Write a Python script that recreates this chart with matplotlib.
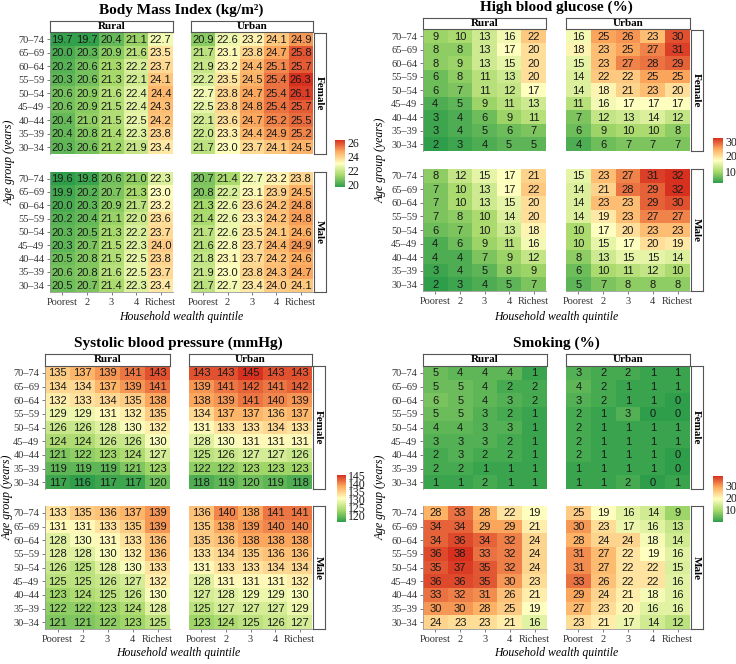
"""Heatmaps of four risk factors by age group, wealth quintile, sex and area."""
import numpy as np
import matplotlib
matplotlib.use("Agg")
import matplotlib.pyplot as plt
from matplotlib.colors import LinearSegmentedColormap, Normalize

# Figure size in pixels (dpi 100)
FIG_W = 736
FIG_H = 664
SERIF = "Liberation Serif"
SANS = "Liberation Sans"
HEAT_COLOURS = ["#2e9e4b", "#a6d96a", "#ffffbf", "#fdae61", "#d7301f"]
CMAP = LinearSegmentedColormap.from_list("risk", HEAT_COLOURS)

AGE_GROUPS = ["70–74", "65–69", "60–64", "55–59", "50–54",
              "45–49", "40–44", "35–39", "30–34"]
QUINTILES = ["Poorest", "2", "3", "4", "Richest"]

# Body mass index (kg/m2)
BMI_RURAL_FEMALE = [
    [19.7, 19.7, 20.4, 21.1, 22.7], [20.0, 20.3, 20.9, 21.6, 23.5],
    [20.2, 20.6, 21.3, 22.2, 23.7], [20.3, 20.6, 21.3, 22.1, 24.1],
    [20.6, 20.9, 21.6, 22.4, 24.4], [20.6, 20.9, 21.5, 22.4, 24.3],
    [20.4, 21.0, 21.5, 22.5, 24.2], [20.4, 20.8, 21.4, 22.3, 23.8],
    [20.3, 20.6, 21.2, 21.9, 23.4]]
BMI_URBAN_FEMALE = [
    [20.9, 22.6, 23.2, 24.1, 24.9], [21.7, 23.1, 23.8, 24.7, 25.8],
    [21.9, 23.2, 24.4, 25.1, 25.7], [22.2, 23.5, 24.5, 25.4, 26.3],
    [22.7, 23.8, 24.7, 25.4, 26.1], [22.5, 23.8, 24.8, 25.4, 25.7],
    [22.1, 23.6, 24.7, 25.2, 25.5], [22.0, 23.3, 24.4, 24.9, 25.2],
    [21.7, 23.0, 23.7, 24.1, 24.5]]
BMI_RURAL_MALE = [
    [19.6, 19.8, 20.6, 21.0, 22.3], [19.9, 20.2, 20.7, 21.3, 23.0],
    [20.0, 20.3, 20.9, 21.7, 23.2], [20.2, 20.4, 21.1, 22.0, 23.6],
    [20.3, 20.5, 21.3, 22.2, 23.7], [20.3, 20.7, 21.5, 22.3, 24.0],
    [20.5, 20.8, 21.5, 22.5, 23.8], [20.6, 20.8, 21.6, 22.5, 23.7],
    [20.5, 20.7, 21.4, 22.3, 23.4]]
BMI_URBAN_MALE = [
    [20.7, 21.4, 22.7, 23.2, 23.8], [20.8, 22.2, 23.1, 23.9, 24.5],
    [21.3, 22.6, 23.6, 24.2, 24.8], [21.4, 22.6, 23.3, 24.2, 24.8],
    [21.7, 22.6, 23.5, 24.1, 24.6], [21.6, 22.8, 23.7, 24.4, 24.9],
    [21.8, 23.1, 23.7, 24.2, 24.6], [21.9, 23.0, 23.8, 24.3, 24.7],
    [21.7, 22.7, 23.4, 24.0, 24.1]]

# High blood glucose (%)
GLU_RURAL_FEMALE = [
    [9, 10, 13, 16, 22], [8, 8, 13, 17, 20], [8, 9, 13, 15, 20],
    [6, 8, 11, 13, 20], [6, 7, 11, 12, 17], [4, 5, 9, 11, 13],
    [3, 4, 6, 9, 11], [3, 4, 5, 6, 7], [2, 3, 4, 5, 5]]
GLU_URBAN_FEMALE = [
    [16, 25, 26, 23, 30], [18, 23, 25, 27, 31], [15, 23, 27, 28, 29],
    [14, 22, 22, 25, 25], [14, 18, 21, 23, 20], [11, 16, 17, 17, 17],
    [7, 12, 13, 14, 12], [6, 9, 10, 10, 8], [4, 6, 7, 7, 7]]
GLU_RURAL_MALE = [
    [8, 12, 15, 17, 21], [7, 10, 13, 17, 22], [7, 10, 13, 15, 20],
    [7, 8, 10, 14, 20], [6, 7, 10, 13, 18], [4, 6, 9, 11, 16],
    [4, 4, 7, 9, 12], [3, 4, 5, 8, 9], [2, 3, 4, 5, 7]]
GLU_URBAN_MALE = [
    [15, 23, 27, 31, 32], [14, 21, 28, 29, 32], [14, 23, 23, 29, 30],
    [14, 19, 23, 27, 27], [10, 17, 20, 23, 23], [10, 15, 17, 20, 19],
    [8, 13, 15, 15, 14], [6, 10, 11, 12, 10], [5, 7, 8, 8, 8]]

# Systolic blood pressure (mmHg)
SBP_RURAL_FEMALE = [
    [135, 137, 139, 141, 143], [134, 134, 137, 139, 141],
    [132, 133, 134, 135, 138], [129, 129, 131, 132, 135],
    [126, 126, 128, 130, 132], [124, 124, 126, 126, 130],
    [121, 122, 123, 124, 127], [119, 119, 119, 121, 123],
    [117, 116, 117, 117, 120]]
SBP_URBAN_FEMALE = [
    [143, 143, 145, 143, 143], [139, 141, 142, 141, 142],
    [138, 139, 141, 140, 139], [134, 137, 137, 136, 137],
    [131, 133, 133, 134, 133], [128, 130, 131, 131, 131],
    [125, 126, 127, 127, 126], [122, 122, 123, 123, 123],
    [118, 119, 120, 119, 118]]
SBP_RURAL_MALE = [
    [133, 135, 136, 137, 139], [131, 131, 133, 135, 139],
    [128, 130, 131, 133, 136], [128, 128, 130, 132, 136],
    [126, 125, 128, 130, 133], [125, 125, 126, 127, 132],
    [123, 124, 125, 126, 130], [122, 122, 123, 124, 128],
    [121, 121, 122, 123, 125]]
SBP_URBAN_MALE = [
    [136, 140, 138, 141, 141], [135, 138, 139, 140, 140],
    [135, 136, 138, 138, 138], [133, 134, 135, 136, 136],
    [131, 133, 133, 134, 134], [128, 131, 131, 131, 132],
    [127, 128, 129, 129, 130], [125, 127, 127, 127, 129],
    [123, 124, 125, 126, 127]]

# Smoking (%)
SMK_RURAL_FEMALE = [
    [5, 4, 4, 4, 1], [5, 5, 4, 2, 2], [6, 5, 4, 3, 2],
    [5, 5, 3, 2, 1], [4, 4, 3, 3, 1], [3, 3, 3, 2, 1],
    [2, 3, 2, 2, 1], [2, 2, 1, 1, 1], [1, 1, 2, 1, 1]]
SMK_URBAN_FEMALE = [
    [3, 2, 2, 1, 1], [4, 2, 1, 1, 1], [3, 2, 1, 1, 0],
    [2, 1, 3, 0, 0], [2, 1, 1, 1, 1], [2, 1, 1, 1, 1],
    [2, 1, 1, 1, 0], [1, 1, 1, 1, 0], [1, 1, 2, 0, 1]]
SMK_RURAL_MALE = [
    [28, 33, 28, 22, 19], [34, 34, 29, 29, 21], [34, 36, 34, 32, 24],
    [36, 38, 33, 32, 24], [35, 37, 35, 32, 24], [36, 36, 35, 30, 23],
    [33, 32, 31, 26, 21], [30, 30, 28, 25, 19], [24, 23, 23, 21, 16]]
SMK_URBAN_MALE = [
    [25, 19, 16, 14, 9], [30, 23, 17, 16, 13], [28, 24, 24, 18, 14],
    [31, 27, 22, 19, 16], [31, 27, 22, 22, 15], [33, 26, 22, 22, 16],
    [29, 24, 21, 18, 16], [27, 23, 20, 16, 16], [23, 21, 17, 14, 12]]


def px_rect(x0, x1, y0, y1):
    """Pixel box (top-left origin) to figure fraction rectangle."""
    return [x0 / FIG_W, 1 - y1 / FIG_H, (x1 - x0) / FIG_W, (y1 - y0) / FIG_H]


def draw_facet(fig, rect, values, norm, fmt, show_y, show_x):
    """One heatmap tile grid with its cell labels."""
    ax = fig.add_axes(rect)
    arr = np.array(values, dtype=float)
    im = ax.imshow(arr, cmap=CMAP, norm=norm, aspect="auto",
                   interpolation="nearest")
    for i in range(arr.shape[0]):
        for j in range(arr.shape[1]):
            ax.text(j, i + 0.04, fmt.format(arr[i, j]), ha="center", va="center",
                    fontsize=8, family=SANS, color="#1a1a1a")
    for spine in ax.spines.values():
        spine.set_visible(False)
    ax.tick_params(length=2.5, width=0.6, color="#666666", pad=1.5,
                   labelsize=7.5, labelcolor="#333333")
    if show_y:
        ax.set_yticks(range(len(AGE_GROUPS)))
        ax.set_yticklabels(AGE_GROUPS)
        ax.spines["left"].set_visible(True)
        ax.spines["left"].set_color("#999999")
        ax.spines["left"].set_linewidth(0.6)
    else:
        ax.set_yticks([])
    if show_x:
        ax.set_xticks(range(len(QUINTILES)))
        ax.set_xticklabels(QUINTILES)
        ax.spines["bottom"].set_visible(True)
        ax.spines["bottom"].set_color("#999999")
        ax.spines["bottom"].set_linewidth(0.6)
    else:
        ax.set_xticks([])
    return im


def draw_strip(fig, rect, label, rotation=0):
    """Facet strip: white box with gray border."""
    ax = fig.add_axes(rect)
    ax.set_facecolor("white")
    ax.set_xticks([])
    ax.set_yticks([])
    for spine in ax.spines.values():
        spine.set_color("#555555")
        spine.set_linewidth(0.8)
    ax.text(0.5, 0.5, label, ha="center", va="center", rotation=rotation,
            fontsize=8, fontweight="bold", transform=ax.transAxes)


def draw_panel(fig, title, facets, fmt, ticks, lay):
    """Title, 2x2 facets, strips, colorbar and axis titles of one panel."""
    all_values = np.concatenate([np.ravel(v) for v in facets])
    norm = Normalize(vmin=all_values.min(), vmax=all_values.max())
    rural_x, urban_x = lay["rural_x"], lay["urban_x"]
    fem_y, male_y = lay["fem_y"], lay["male_y"]
    im = draw_facet(fig, px_rect(*rural_x, *fem_y), facets[0], norm, fmt, True, False)
    draw_facet(fig, px_rect(*urban_x, *fem_y), facets[1], norm, fmt, False, False)
    draw_facet(fig, px_rect(*rural_x, *male_y), facets[2], norm, fmt, True, True)
    draw_facet(fig, px_rect(*urban_x, *male_y), facets[3], norm, fmt, False, True)

    strip_y = (fem_y[0] - 12, fem_y[0] - 0.5)
    draw_strip(fig, px_rect(*rural_x, *strip_y), "Rural")
    draw_strip(fig, px_rect(*urban_x, *strip_y), "Urban")
    side_x = (urban_x[1] + 0.5, urban_x[1] + 13)
    draw_strip(fig, px_rect(*side_x, *fem_y), "Female", rotation=-90)
    draw_strip(fig, px_rect(*side_x, *male_y), "Male", rotation=-90)

    cx = (rural_x[0] + urban_x[1]) / 2 / FIG_W
    fig.text(cx, 1 - lay["title_y"] / FIG_H, title, ha="center", va="center",
             fontsize=11, fontweight="bold")
    fig.text(cx, 1 - lay["xlab_y"] / FIG_H, "Household wealth quintile",
             ha="center", va="center", fontsize=8.5, style="italic")
    cy = (fem_y[0] + male_y[1]) / 2
    fig.text(lay["ylab_x"] / FIG_W, 1 - cy / FIG_H, "Age group (years)",
             ha="center", va="center", rotation=90, fontsize=8.5, style="italic")

    cax = fig.add_axes(px_rect(*lay["cbar"]))
    cb = fig.colorbar(im, cax=cax, ticks=ticks)
    cb.outline.set_visible(False)
    cax.tick_params(length=0, pad=1.5, labelsize=8.5, labelcolor="#1a1a1a")


plt.rcParams["font.family"] = [SERIF, "DejaVu Serif"]
fig = plt.figure(figsize=(FIG_W / 100, FIG_H / 100), dpi=100)

draw_panel(fig, "Body Mass Index (kg/m²)",
           [BMI_RURAL_FEMALE, BMI_URBAN_FEMALE, BMI_RURAL_MALE, BMI_URBAN_MALE],
           "{:.1f}", [20, 22, 24, 26],
           dict(rural_x=(50, 173), urban_x=(191, 313), fem_y=(32.5, 154),
                male_y=(172, 292), title_y=10, xlab_y=317, ylab_x=10,
                cbar=(335, 345, 140, 187)))
draw_panel(fig, "High blood glucose (%)",
           [GLU_RURAL_FEMALE, GLU_URBAN_FEMALE, GLU_RURAL_MALE, GLU_URBAN_MALE],
           "{:.0f}", [10, 20, 30],
           dict(rural_x=(423, 546), urban_x=(566, 690), fem_y=(29.5, 151),
                male_y=(169, 291), title_y=7, xlab_y=317, ylab_x=381,
                cbar=(713, 723, 138, 183)))
draw_panel(fig, "Systolic blood pressure (mmHg)",
           [SBP_RURAL_FEMALE, SBP_URBAN_FEMALE, SBP_RURAL_MALE, SBP_URBAN_MALE],
           "{:.0f}", [120, 125, 130, 135, 140, 145],
           dict(rural_x=(45, 170), urban_x=(189, 312), fem_y=(366, 489),
                male_y=(506, 629), title_y=343, xlab_y=653, ylab_x=8,
                cbar=(337, 346, 475, 522)))
draw_panel(fig, "Smoking (%)",
           [SMK_RURAL_FEMALE, SMK_URBAN_FEMALE, SMK_RURAL_MALE, SMK_URBAN_MALE],
           "{:.0f}", [10, 20, 30],
           dict(rural_x=(423, 547), urban_x=(566, 690), fem_y=(366, 489),
                male_y=(506, 629), title_y=343, xlab_y=653, ylab_x=381,
                cbar=(713, 723, 476, 522)))

fig.savefig("out.png", dpi=100)
